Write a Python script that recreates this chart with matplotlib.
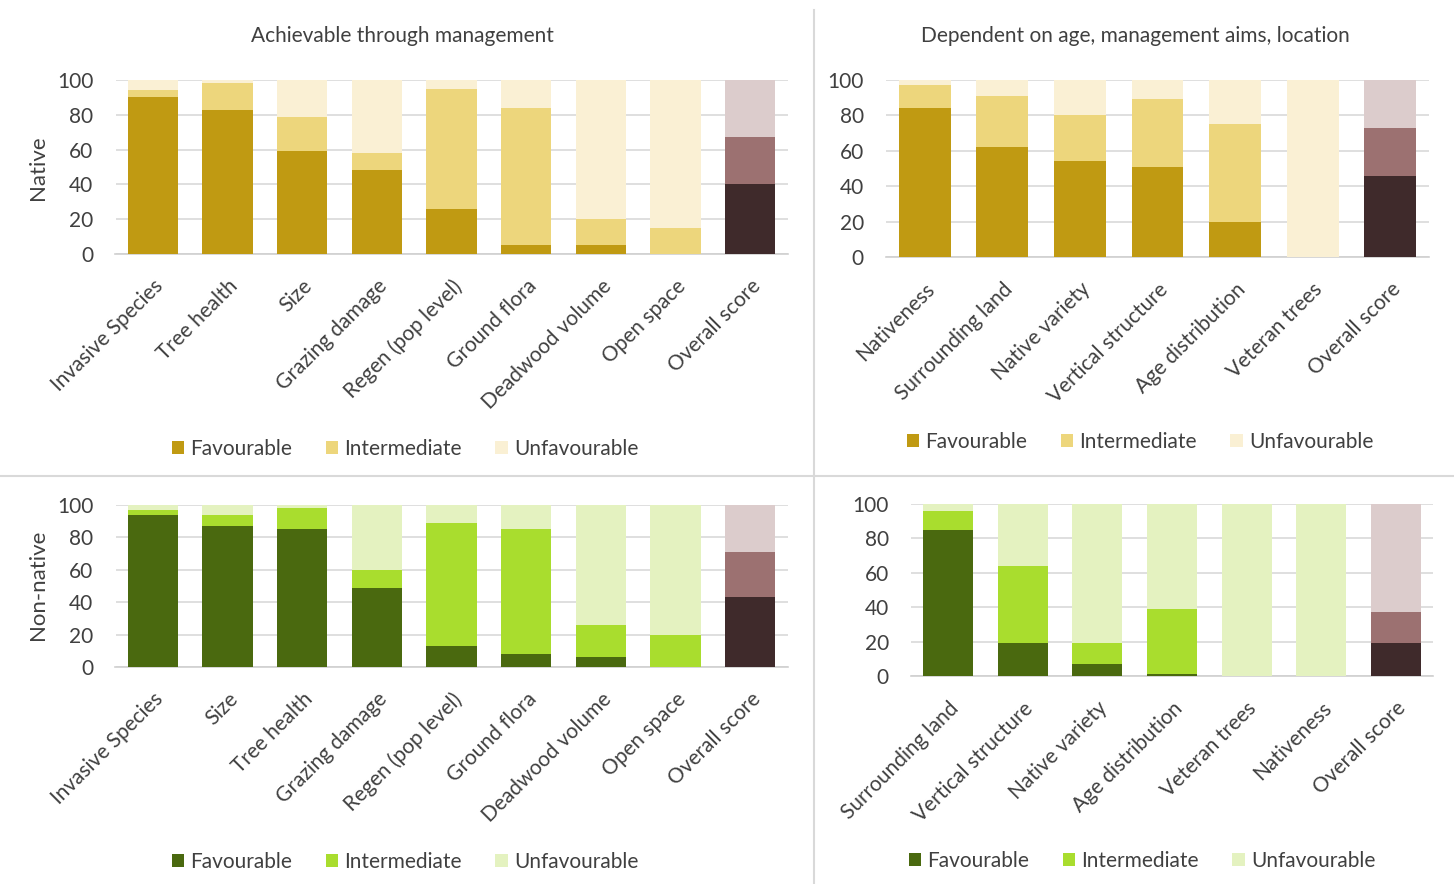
import numpy as np
import matplotlib
matplotlib.use("Agg")
import matplotlib.pyplot as plt
from matplotlib.patches import Patch
from matplotlib.lines import Line2D

plt.rcParams['font.family'] = ['Lato', 'DejaVu Sans']

# achievable through management
ach_native_cats = ["Invasive Species", "Tree health", "Size", "Grazing damage",
                   "Regen (pop level)", "Ground flora", "Deadwood volume",
                   "Open space", "Overall score"]
ach_native_fav = [90, 83, 59, 48, 26, 5, 5, 0, 40]
ach_native_int = [4, 15, 20, 10, 69, 79, 15, 15, 27]
ach_native_unf = [6, 2, 21, 42, 5, 16, 80, 85, 33]

ach_nonnat_cats = ["Invasive Species", "Size", "Tree health", "Grazing damage",
                   "Regen (pop level)", "Ground flora", "Deadwood volume",
                   "Open space", "Overall score"]
ach_nonnat_fav = [94, 87, 85, 49, 13, 8, 6, 0, 43]
ach_nonnat_int = [3, 7, 13, 11, 76, 77, 20, 20, 28]
ach_nonnat_unf = [3, 6, 2, 40, 11, 15, 74, 80, 29]

# dependent on age, management aims, location
dep_native_cats = ["Nativeness", "Surrounding land", "Native variety",
                   "Vertical structure", "Age distribution", "Veteran trees",
                   "Overall score"]
dep_native_fav = [84, 62, 54, 51, 20, 0, 46]
dep_native_int = [13, 29, 26, 38, 55, 0, 27]
dep_native_unf = [3, 9, 20, 11, 25, 100, 27]

dep_nonnat_cats = ["Surrounding land", "Vertical structure", "Native variety",
                   "Age distribution", "Veteran trees", "Nativeness",
                   "Overall score"]
dep_nonnat_fav = [85, 19, 7, 1, 0, 0, 19]
dep_nonnat_int = [11, 45, 12, 38, 0, 0, 18]
dep_nonnat_unf = [4, 36, 81, 61, 100, 100, 63]

native_cols = ["#C09A12", "#EDD67C", "#FAF0D4"]
nonnat_cols = ["#4A690F", "#A9DD2E", "#E4F2C0"]
overall_cols = ["#3F2A2B", "#9C7171", "#DCCCCC"]
labels = ["Favourable", "Intermediate", "Unfavourable"]

FS = 15
W, H = 1454, 884
fig = plt.figure(figsize=(W / 100, H / 100), dpi=100)


def px_axes(x0, x1, ytop, ybot):
    return fig.add_axes([x0 / W, 1 - ybot / H, (x1 - x0) / W, (ybot - ytop) / H])


def panel(ax, cats, fav, inte, unf, cols):
    x = np.arange(len(cats))
    n = len(cats)
    c0 = [cols[0]] * (n - 1) + [overall_cols[0]]
    c1 = [cols[1]] * (n - 1) + [overall_cols[1]]
    c2 = [cols[2]] * (n - 1) + [overall_cols[2]]
    fav = np.array(fav)
    inte = np.array(inte)
    unf = np.array(unf)
    ax.bar(x, fav, 0.67, color=c0, zorder=3)
    ax.bar(x, inte, 0.67, bottom=fav, color=c1, zorder=3)
    ax.bar(x, unf, 0.67, bottom=fav + inte, color=c2, zorder=3)
    ax.set_xlim(-0.5, n - 0.5)
    ax.set_ylim(0, 100)
    ax.set_yticks(np.arange(0, 101, 20))
    ax.yaxis.grid(True, color="#d9d9d9", lw=1.2, zorder=0)
    for s in ["top", "right", "left"]:
        ax.spines[s].set_visible(False)
    ax.spines["bottom"].set_color("#d0d0d0")
    ax.spines["bottom"].set_linewidth(1.2)
    ax.tick_params(length=0, labelsize=FS, labelcolor="#404040")
    ax.tick_params(axis="x", pad=16)
    ax.tick_params(axis="y", pad=16)
    ax.set_xticks(x)
    ax.set_xticklabels(cats, rotation=45, ha="right", rotation_mode="anchor")


ax1 = px_axes(115.5, 787.5, 80, 254)
panel(ax1, ach_native_cats, ach_native_fav, ach_native_int, ach_native_unf, native_cols)
ax2 = px_axes(886, 1429, 80, 257)
panel(ax2, dep_native_cats, dep_native_fav, dep_native_int, dep_native_unf, native_cols)
ax3 = px_axes(115.5, 787.5, 505, 667)
panel(ax3, ach_nonnat_cats, ach_nonnat_fav, ach_nonnat_int, ach_nonnat_unf, nonnat_cols)
ax4 = px_axes(911, 1433, 504, 676)
panel(ax4, dep_nonnat_cats, dep_nonnat_fav, dep_nonnat_int, dep_nonnat_unf, nonnat_cols)

# titles and side labels
fig.text(402 / W, 1 - 36 / H, "Achievable through management", ha="center", va="center",
         fontsize=FS, color="#404040")
fig.text(1135 / W, 1 - 36 / H, "Dependent on age, management aims, location", ha="center",
         va="center", fontsize=FS, color="#404040")
fig.text(38 / W, 1 - 168 / H, "Native", rotation=90, ha="center", va="center",
         fontsize=16, color="#404040")
fig.text(38 / W, 1 - 585 / H, "Non-native", rotation=90, ha="center", va="center",
         fontsize=16, color="#404040")

# legends
for cols, cx, cy in [(native_cols, 405, 449), (native_cols, 1140, 442),
                     (nonnat_cols, 405, 862), (nonnat_cols, 1142, 861)]:
    handles = [Patch(facecolor=c, edgecolor="none") for c in cols]
    fig.legend(handles, labels, loc="center", bbox_to_anchor=(cx / W, 1 - cy / H),
               ncol=3, frameon=False, fontsize=FS, handlelength=0.6, handleheight=0.6,
               handletextpad=0.3, columnspacing=1.6, labelcolor="#404040")

# panel separators
fig.add_artist(Line2D([814 / W, 814 / W], [0, 1 - 10 / H], color="#d9d9d9", lw=1.5))
fig.add_artist(Line2D([0, 1], [1 - 476 / H, 1 - 476 / H], color="#d9d9d9", lw=1.5))

fig.savefig("out.png", dpi=100)
